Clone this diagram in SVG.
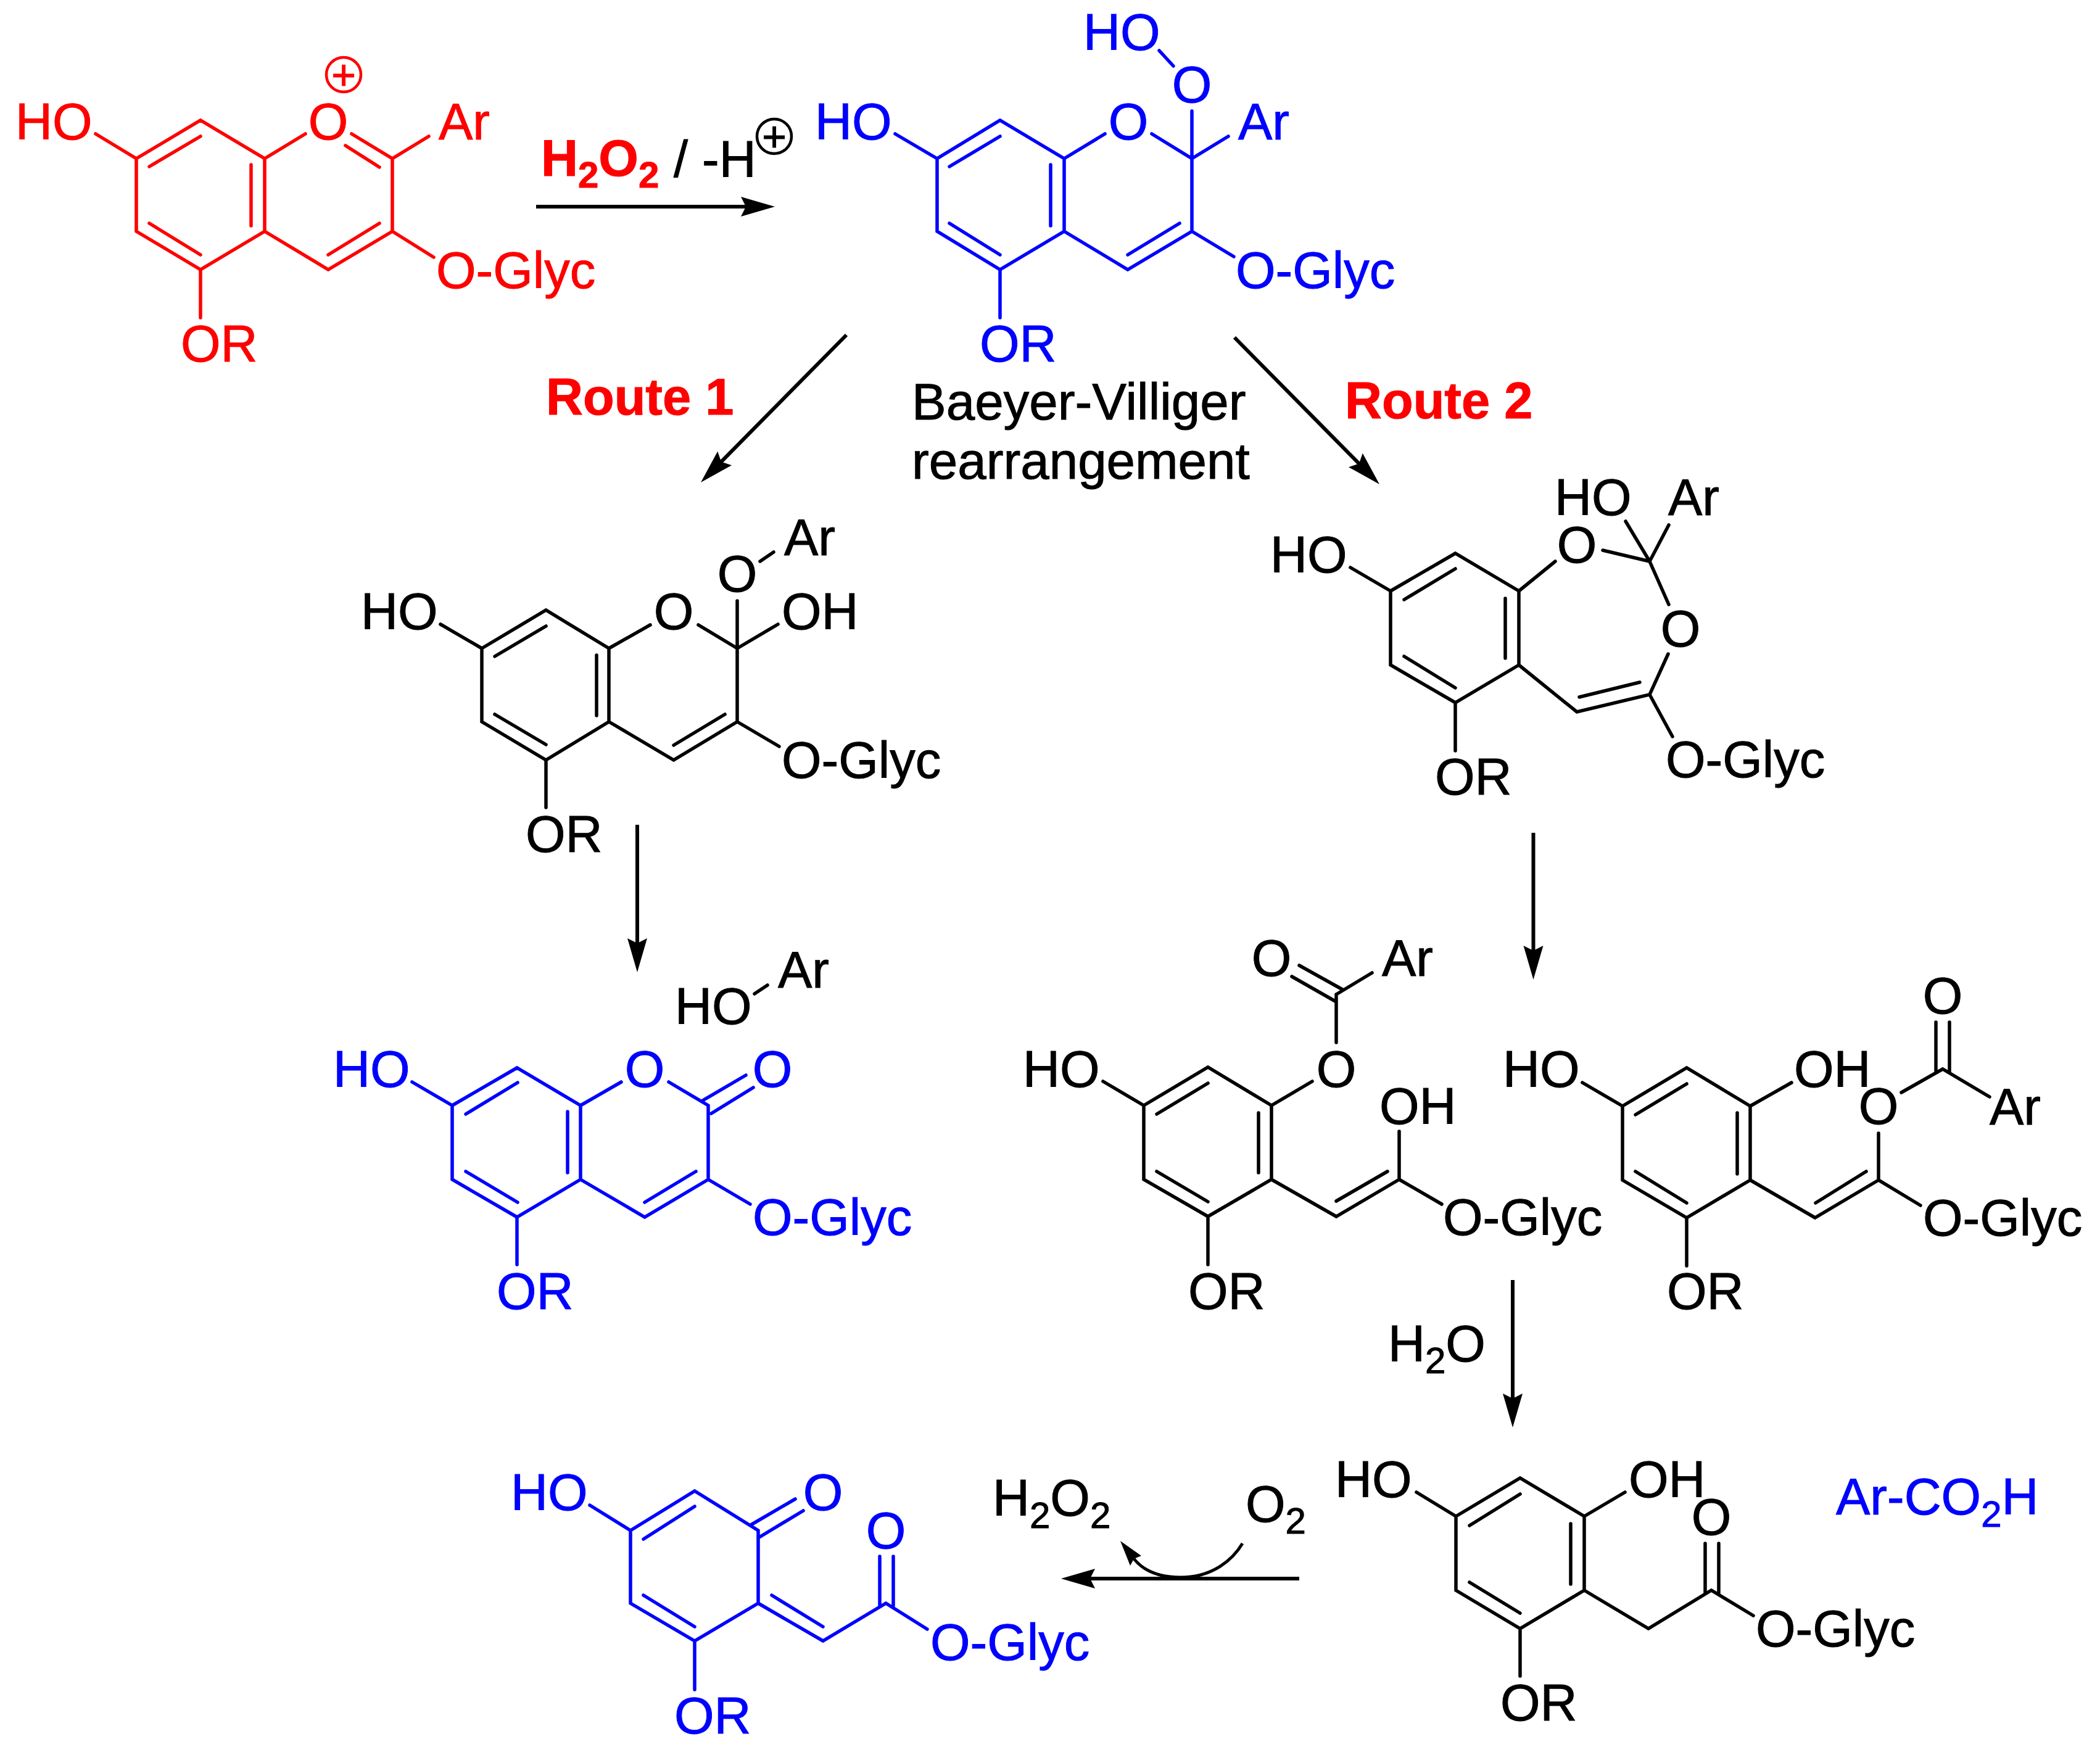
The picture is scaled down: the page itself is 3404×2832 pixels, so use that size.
<svg xmlns="http://www.w3.org/2000/svg" width="3404" height="2832" viewBox="0 0 3404 2832">
<style>
text{font-family:"Liberation Sans",Arial,sans-serif;font-size:83px;stroke-width:1}
.m{text-anchor:middle}
.b{font-weight:bold}
.red{fill:#f00;stroke:#f00}.blue{fill:#00f;stroke:#00f}.blk{fill:#000;stroke:#000}
path.bond{fill:none;stroke-width:5.5;stroke-linecap:round;stroke-linejoin:miter}
.arr{fill:none;stroke:#000;stroke-width:6;marker-end:url(#head)}
.chg{stroke-width:4.5}
.pl{font-size:68px;text-anchor:middle}
.lg{font-size:83.5px}
</style>
<defs>
<marker id="head" markerUnits="userSpaceOnUse" markerWidth="60" markerHeight="40" viewBox="0 -20 60 40" refX="8" refY="0" orient="auto"><path d="M0,-16L55,0L0,16L8,0Z" fill="#000" stroke="none"/></marker>
</defs>
<rect width="3404" height="2832" fill="#fff"/>

<g id="flavylium" class="red">
<path class="bond" d="M221,257L325,195L429,257L429,375L325,437L221,375ZM155,217L221,257M242,270L325,221M242,362L325,413M407,267L407,366M429,257L495,217M570,217L636,257L636,375L532,437L429,375M560,236L615,271M636,257L695,221M532,413L615,362M636,375L703,417M325,437L325,515"/>
<text x="25" y="226">HO</text><text class="m" x="532" y="226">O</text><text x="711" y="226">Ar</text><text x="707" y="467">O-Glyc</text><text x="293" y="586">OR</text>
<circle class="chg" cx="557" cy="121" r="28" style="fill:none"/><text class="pl" x="557" y="145">+</text>
</g>

<g id="reagent-h2o2">
<text x="877" y="285" class="b red">H<tspan font-size="60" dy="19">2</tspan><tspan dy="-19">O</tspan><tspan font-size="60" dy="19">2</tspan></text>
<text x="1092" y="287" class="blk">/ -H</text>
<g class="blk"><circle class="chg" cx="1255" cy="221" r="28" style="fill:none"/><text class="pl" x="1255" y="245">+</text></g>
</g>

<g id="hydroperoxide" class="blue">
<path class="bond" d="M1519,257L1621,195L1725,257L1725,375L1621,437L1519,375ZM1451,217L1519,257M1539,270L1621,221M1539,362L1621,413M1703,267L1703,366M1725,257L1791,217M1867,217L1932,257L1932,375L1828,437L1725,375M1932,180L1932,257M1932,257L1991,221M1828,413L1912,362M1932,375L2000,416M1621,437L1621,515M1879,82L1902,107"/>
<text x="1321" y="226">HO</text><text class="m" x="1829" y="226">O</text><text x="1756" y="81">HO</text><text class="m" x="1932" y="166">O</text><text x="2007" y="226">Ar</text><text x="2003" y="467">O-Glyc</text><text x="1588" y="586">OR</text>
</g>

<g id="route-labels">
<text x="885" y="672" class="b red">Route 1</text>
<text x="2180" y="678" class="b red">Route 2</text>
<text x="1478" y="680" class="blk lg">Baeyer-Villiger</text>
<text x="1478" y="776" class="blk lg">rearrangement</text>
</g>

<g id="hemiketal" class="blk">
<path class="bond" d="M781,1051L885,989L987,1051L987,1170L885,1232L781,1170ZM714,1012L781,1051M802,1064L885,1015M802,1158L885,1207M967,1062L967,1160M987,1051L1054,1013M1132,1013L1195,1051L1195,1170L1092,1232L987,1170M1195,974L1195,1051M1195,1051L1261,1012M1092,1208L1175,1158M1195,1170L1263,1210M885,1232L885,1309M1232,910L1254,895"/>
<text x="585" y="1020">HO</text><text class="m" x="1092" y="1020">O</text><text x="1267" y="1020">OH</text><text class="m" x="1195" y="959">O</text><text x="1271" y="900">Ar</text><text x="1267" y="1261">O-Glyc</text><text x="852" y="1381">OR</text>
</g>

<g id="dioxepine" class="blk">
<path class="bond" d="M2254,958L2359,897L2462,958L2462,1078L2359,1139L2254,1078ZM2189,920L2254,958M2276,972L2359,922M2276,1064L2359,1115M2440,970L2440,1067M2462,958L2521,910M2598,892L2674,910M2635,845L2674,910M2705,851L2674,910L2705,980M2704,1060L2674,1126L2556,1154L2462,1078M2658,1106L2560,1130M2674,1126L2711,1194M2359,1139L2359,1217"/>
<text x="2059" y="928">HO</text><text class="m" x="2556" y="912">O</text><text class="m" x="2724" y="1048">O</text><text x="2520" y="835">HO</text><text x="2704" y="835">Ar</text><text x="2700" y="1260">O-Glyc</text><text x="2326" y="1288">OR</text>
</g>

<g id="coumarin" class="blue">
<path class="bond" d="M733,1792L838,1731L941,1792L941,1912L838,1973L733,1912ZM668,1754L733,1792M755,1806L839,1755M755,1899L839,1949M920,1802L920,1901M941,1792L1007,1754M1084,1754L1148,1792L1148,1912L1045,1973L941,1912M1139,1784L1209,1743M1153,1805L1221,1763M1045,1949L1128,1899M1148,1912L1216,1952M838,1973L838,2050"/>
<text x="540" y="1762">HO</text><text class="m" x="1045" y="1762">O</text><text class="m" x="1252" y="1762">O</text><text x="1220" y="2002">O-Glyc</text><text x="805" y="2122">OR</text>
</g>

<g id="phenol-ar" class="blk">
<path class="bond" d="M1223,1611L1244,1597"/>
<text x="1094" y="1660">HO</text><text x="1261" y="1601">Ar</text>
</g>

<g id="ester-a" class="blk">
<path class="bond" d="M1854,1792L1958,1730L2061,1792L2061,1912L1958,1972L1854,1912ZM1788,1753L1854,1792M1875,1806L1958,1756M1875,1899L1958,1948M2040,1804L2040,1901M2061,1792L2127,1753M2166,1690L2166,1612M2094,1583L2166,1624M2106,1565L2176,1604M2166,1612L2224,1577M2268,1834L2268,1912M2061,1912L2166,1972L2268,1912M2166,1947L2249,1899M2268,1912L2337,1952M1958,1972L1958,2050"/>
<text x="1658" y="1762">HO</text><text class="m" x="2166" y="1762">O</text><text x="2236" y="1822">OH</text><text x="2339" y="2002">O-Glyc</text><text x="1926" y="2122">OR</text><text class="m" x="2061" y="1582">O</text><text x="2240" y="1582">Ar</text>
</g>

<g id="ester-b" class="blk">
<path class="bond" d="M2630,1793L2734,1731L2837,1793L2837,1913L2734,1974L2630,1913ZM2565,1755L2630,1793M2651,1807L2734,1757M2651,1899L2734,1950M2816,1804L2816,1903M2837,1793L2904,1755M2837,1913L2942,1974L3045,1913M2943,1950L3025,1899M3045,1837L3045,1913M3045,1913L3113,1954M2734,1974L2734,2052M3082,1771L3149,1733L3225,1778M3138,1657L3138,1738M3160,1657L3160,1738"/>
<text x="2436" y="1762">HO</text><text x="2908" y="1762">OH</text><text class="m" x="3045" y="1822">O</text><text class="m" x="3149" y="1643">O</text><text x="3225" y="1823">Ar</text><text x="3117" y="2003">O-Glyc</text><text x="2702" y="2122">OR</text>
</g>

<g id="reagent-h2o">
<text x="2250" y="2207" class="blk">H<tspan font-size="60" dy="19">2</tspan><tspan dy="-19">O</tspan></text>
</g>

<g id="arylacetate" class="blk">
<path class="bond" d="M2360,2458L2464,2396L2568,2458L2568,2578L2464,2640L2360,2578ZM2296,2419L2360,2458M2382,2473L2464,2422M2382,2565L2464,2615M2546,2470L2546,2568M2568,2458L2634,2419M2568,2578L2672,2640L2774,2578L2842,2619M2764,2502L2764,2584M2786,2502L2786,2584M2464,2640L2464,2717"/>
<text x="2164" y="2427">HO</text><text x="2640" y="2427">OH</text><text class="m" x="2774" y="2488">O</text><text x="2846" y="2669">O-Glyc</text><text x="2432" y="2789">OR</text>
</g>

<g id="acid">
<text x="2976" y="2455" class="blue">Ar-CO<tspan font-size="60" dy="20">2</tspan><tspan dy="-20">H</tspan></text>
</g>

<g id="quinone" class="blue">
<path class="bond" d="M1022,2481L1126,2417L1229,2481L1229,2599L1126,2660L1022,2599ZM956,2440L1022,2481M1043,2495L1126,2442M1043,2586L1126,2637M1217,2472L1289,2430M1229,2493L1302,2449M1229,2599L1334,2660L1436,2599L1503,2641M1251,2586L1334,2637M1426,2523L1426,2603M1448,2523L1448,2603M1126,2660L1126,2739"/>
<text x="828" y="2448">HO</text><text class="m" x="1334" y="2448">O</text><text class="m" x="1436" y="2510">O</text><text x="1508" y="2691">O-Glyc</text><text x="1093" y="2810">OR</text>
</g>

<g id="reagent-o2">
<text x="1609" y="2457" class="blk">H<tspan font-size="60" dy="20">2</tspan><tspan dy="-20">O</tspan><tspan font-size="60" dy="20">2</tspan></text>
<text x="2019" y="2467" class="blk">O<tspan font-size="60" dy="19">2</tspan></text>
</g>

<g id="connectors">
<line class="arr" x1="869" y1="335" x2="1209" y2="335"/>
<line class="arr" x1="1372" y1="543" x2="1169" y2="748.6"/>
<line class="arr" x1="2001" y1="547" x2="2203" y2="751.6"/>
<line class="arr" x1="1033" y1="1337" x2="1033" y2="1529"/>
<line class="arr" x1="2485.5" y1="1350" x2="2485.5" y2="1541"/>
<line class="arr" x1="2452" y1="2075" x2="2452" y2="2267"/>
<line class="arr" x1="2106" y1="2559" x2="1767" y2="2559"/>
<path d="M2014,2502C1999,2527 1967,2557 1914,2557C1874,2557 1851,2543 1838,2527" fill="none" stroke="#000" stroke-width="5"/>
<polygon points="1816,2498 1850,2522 1838,2527 1832,2538" fill="#000"/>
</g>
</svg>
